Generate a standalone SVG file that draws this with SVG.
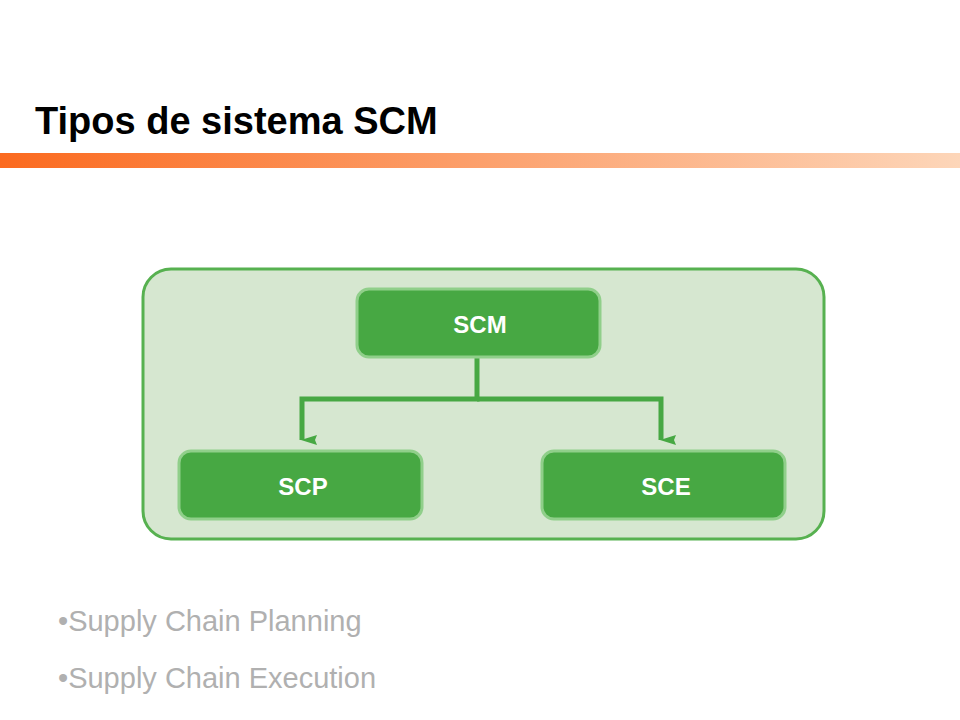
<svg xmlns="http://www.w3.org/2000/svg" width="960" height="720" viewBox="0 0 960 720">
<defs>
<linearGradient id="bar" x1="0" x2="1" y1="0" y2="0"><stop offset="0" stop-color="#fb6a1f"/><stop offset="1" stop-color="#fdd6b9"/></linearGradient>
<marker id="ah" markerWidth="10" markerHeight="16" refX="5" refY="15" orient="auto" markerUnits="userSpaceOnUse"><path d="M0,0 L5,2 L10,0 L5,16 Z" fill="#47a843"/></marker>
<style>
.node rect{fill:#47a843;stroke:#90cf8a;stroke-width:3}
.node text{fill:#fff;font-family:"Liberation Sans",Arial,sans-serif;font-weight:bold;font-size:24px;text-anchor:middle}
.conn{fill:none;stroke:#47a843;stroke-width:5}
.b{fill:#b0b0b0;font-family:"Liberation Sans",Arial,sans-serif;font-size:29px}
</style>
</defs>
<rect width="960" height="720" fill="#fff"/>
<text x="35" y="134" font-family="Liberation Sans,Arial,sans-serif" font-weight="bold" font-size="38" fill="#000">Tipos de sistema SCM</text>
<rect x="0" y="153" width="960" height="15" fill="url(#bar)"/>
<rect x="143" y="269" width="681" height="270" rx="28" fill="#d6e7d0" stroke="#57b150" stroke-width="3"/>
<g id="connectors">
<path class="conn" d="M477,358 V399 H302 V440" marker-end="url(#ah)"/>
<path class="conn" d="M477,399 H661 V440" marker-end="url(#ah)"/>
</g>
<g id="n-scm" class="node"><rect x="357" y="289" width="243" height="68" rx="12"/><text x="480" y="333">SCM</text></g>
<g id="n-scp" class="node"><rect x="179" y="451" width="243" height="68" rx="12"/><text x="303" y="495">SCP</text></g>
<g id="n-sce" class="node"><rect x="542" y="451" width="243" height="68" rx="12"/><text x="666" y="495">SCE</text></g>
<text class="b" x="58" y="631">•Supply Chain Planning</text>
<text class="b" x="58" y="688">•Supply Chain Execution</text>
</svg>
